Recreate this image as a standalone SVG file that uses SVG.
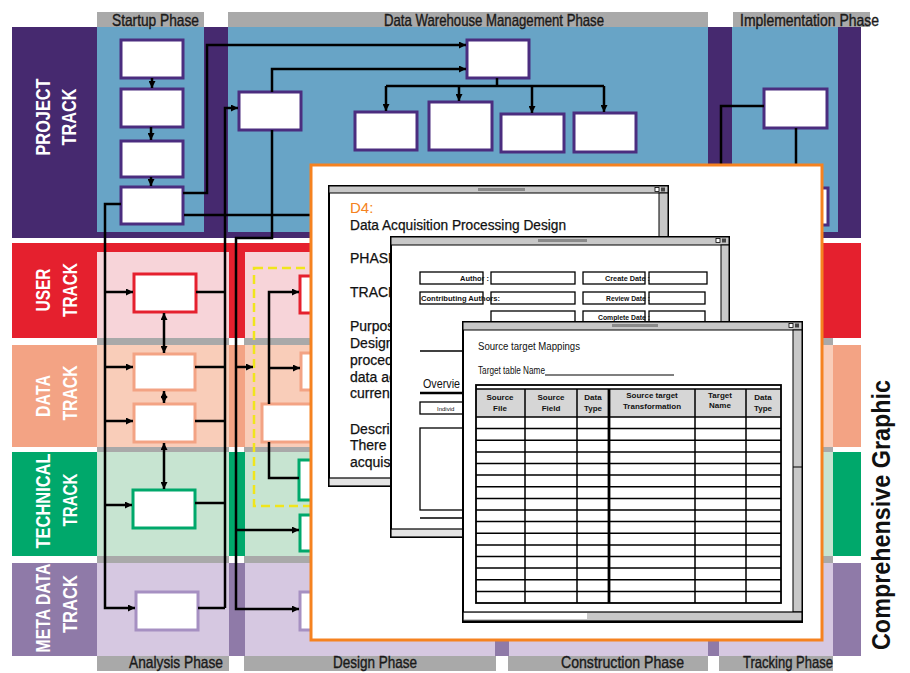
<svg xmlns="http://www.w3.org/2000/svg" width="910" height="673" viewBox="0 0 910 673">
<style>
.ph{font-family:"Liberation Sans",Arial,sans-serif;font-size:17px;fill:#1a1a1a;stroke:#1a1a1a;stroke-width:0.4}
.tl{font-family:"Liberation Sans",Arial,sans-serif;font-weight:bold;font-size:21px;fill:#fff;text-anchor:middle}
.bx{fill:#fff;stroke-width:3}
.pj{stroke:#4b2d7f}
.us{stroke:#e5202e}
.da{stroke:#f3a384}
.te{stroke:#00a86b}
.me{stroke:#a690c2}
.ln{fill:none;stroke:#000;stroke-width:2.5}
.gr{fill:#a9a9a9}
.wt{font-family:"Liberation Sans",Arial,sans-serif;font-size:14px;fill:#111;stroke:#111;stroke-width:0.25}
.fs{font-family:"Liberation Sans",Arial,sans-serif;font-size:8px;font-weight:bold;fill:#111}
.fr{fill:#fff;stroke:#000;stroke-width:1.3}
.win{fill:#fff;stroke:#000;stroke-width:2}
.bar{fill:#c8c8c8;stroke:#000;stroke-width:1}
.hd{font-family:"Liberation Sans",Arial,sans-serif;font-size:8px;font-weight:bold;fill:#111;text-anchor:middle}
</style>
<defs>
<marker id="ah" markerUnits="userSpaceOnUse" markerWidth="7" markerHeight="7" refX="7" refY="3.5" orient="auto-start-reverse">
<path d="M0,0 L7,3.5 L0,7 z" fill="#000"/>
</marker>
</defs>

<g id="background">
<rect width="910" height="673" fill="#fff"/>
<rect class="gr" x="97" y="12" width="107" height="15"/>
<rect class="gr" x="228" y="12" width="480" height="15"/>
<rect class="gr" x="733" y="12" width="137" height="15"/>
<rect x="12" y="27" width="849" height="211" fill="#46296f"/>
<rect x="97" y="27" width="107" height="205" fill="#68a4c6"/>
<rect x="228" y="27" width="480" height="205" fill="#68a4c6"/>
<rect x="732" y="27" width="106" height="205" fill="#68a4c6"/>
<rect x="12" y="243" width="849" height="95" fill="#e5202e"/>
<g fill="#f7d4d9">
<rect x="97" y="252" width="132" height="86"/>
<rect x="245" y="252" width="250" height="86"/>
<rect x="509" y="252" width="199" height="86"/>
<rect x="719" y="252" width="103" height="86"/>
</g>
<rect class="gr" x="97" y="338" width="132" height="7"/>
<rect class="gr" x="244" y="338" width="589" height="7"/>
<rect x="12" y="345" width="849" height="102" fill="#f3a384"/>
<g fill="#f9cdb9">
<rect x="97" y="345" width="132" height="102"/>
<rect x="245" y="345" width="250" height="102"/>
<rect x="509" y="345" width="199" height="102"/>
<rect x="719" y="345" width="114" height="102"/>
</g>
<rect class="gr" x="97" y="447" width="132" height="5"/>
<rect class="gr" x="244" y="447" width="589" height="5"/>
<rect x="12" y="452" width="849" height="104" fill="#00a86b"/>
<g fill="#c7e4d1">
<rect x="97" y="452" width="132" height="104"/>
<rect x="245" y="452" width="250" height="104"/>
<rect x="509" y="452" width="199" height="104"/>
<rect x="719" y="452" width="114" height="104"/>
</g>
<rect class="gr" x="97" y="556" width="132" height="7"/>
<rect class="gr" x="244" y="556" width="589" height="7"/>
<rect x="12" y="563" width="849" height="93" fill="#8f7aa8"/>
<g fill="#d6c8e1">
<rect x="97" y="563" width="132" height="93"/>
<rect x="245" y="563" width="250" height="93"/>
<rect x="509" y="563" width="199" height="93"/>
<rect x="719" y="563" width="114" height="93"/>
</g>
<rect class="gr" x="97" y="656" width="132" height="15"/>
<rect class="gr" x="244" y="656" width="252" height="15"/>
<rect class="gr" x="508" y="656" width="200" height="15"/>
<rect class="gr" x="719" y="656" width="114" height="15"/>
</g>

<g id="phase-labels">
<text class="ph" x="112" y="26" textLength="87" lengthAdjust="spacingAndGlyphs">Startup Phase</text>
<text class="ph" x="384" y="26" textLength="220" lengthAdjust="spacingAndGlyphs">Data Warehouse Management Phase</text>
<text class="ph" x="740" y="26" textLength="139" lengthAdjust="spacingAndGlyphs">Implementation Phase</text>
<text class="ph" x="129" y="668" textLength="94" lengthAdjust="spacingAndGlyphs">Analysis Phase</text>
<text class="ph" x="333" y="668" textLength="84" lengthAdjust="spacingAndGlyphs">Design Phase</text>
<text class="ph" x="561" y="668" textLength="123" lengthAdjust="spacingAndGlyphs">Construction Phase</text>
<text class="ph" x="743" y="668" textLength="90" lengthAdjust="spacingAndGlyphs">Tracking Phase</text>
</g>

<g id="track-labels">
<text class="tl" transform="translate(50,117) rotate(-90)" textLength="77" lengthAdjust="spacingAndGlyphs">PROJECT</text>
<text class="tl" transform="translate(76,117) rotate(-90)" textLength="57" lengthAdjust="spacingAndGlyphs">TRACK</text>
<text class="tl" transform="translate(50,290) rotate(-90)" textLength="43" lengthAdjust="spacingAndGlyphs">USER</text>
<text class="tl" transform="translate(77,290) rotate(-90)" textLength="54" lengthAdjust="spacingAndGlyphs">TRACK</text>
<text class="tl" transform="translate(50,396) rotate(-90)" textLength="42" lengthAdjust="spacingAndGlyphs">DATA</text>
<text class="tl" transform="translate(77,393) rotate(-90)" textLength="55" lengthAdjust="spacingAndGlyphs">TRACK</text>
<text class="tl" transform="translate(50,501) rotate(-90)" textLength="95" lengthAdjust="spacingAndGlyphs">TECHNICAL</text>
<text class="tl" transform="translate(77,500) rotate(-90)" textLength="53" lengthAdjust="spacingAndGlyphs">TRACK</text>
<text class="tl" transform="translate(50,608) rotate(-90)" textLength="89" lengthAdjust="spacingAndGlyphs">META DATA</text>
<text class="tl" transform="translate(77,604) rotate(-90)" textLength="58" lengthAdjust="spacingAndGlyphs">TRACK</text>
</g>

<g id="node-startup-1"><rect class="bx pj" x="121" y="40" width="62" height="38"/></g>
<g id="node-startup-2"><rect class="bx pj" x="121" y="89" width="62" height="38"/></g>
<g id="node-startup-3"><rect class="bx pj" x="121" y="141" width="62" height="36"/></g>
<g id="node-startup-4"><rect class="bx pj" x="121" y="187" width="62" height="37"/></g>
<g id="node-dwm-1"><rect class="bx pj" x="239" y="92" width="62" height="38"/></g>
<g id="node-dwm-top"><rect class="bx pj" x="467" y="40" width="62" height="38"/></g>
<g id="node-dwm-a"><rect class="bx pj" x="355" y="112" width="62" height="38"/></g>
<g id="node-dwm-b"><rect class="bx pj" x="429" y="102" width="63" height="48"/></g>
<g id="node-dwm-c"><rect class="bx pj" x="501" y="114" width="63" height="38"/></g>
<g id="node-dwm-d"><rect class="bx pj" x="574" y="113" width="62" height="39"/></g>
<g id="node-impl-1"><rect class="bx pj" x="764" y="89" width="63" height="39"/></g>
<g id="node-impl-2"><rect class="bx pj" x="766" y="188" width="62" height="37"/></g>
<g id="node-an-user"><rect class="bx us" x="134" y="274" width="62" height="38"/></g>
<g id="node-an-data1"><rect class="bx da" x="134" y="354" width="61" height="36"/></g>
<g id="node-an-data2"><rect class="bx da" x="134" y="404" width="61" height="38"/></g>
<g id="node-an-tech"><rect class="bx te" x="133" y="490" width="62" height="38"/></g>
<g id="node-an-meta"><rect class="bx me" x="136" y="592" width="62" height="38"/></g>
<g id="node-de-user"><rect class="bx us" x="300" y="276" width="60" height="37"/></g>
<g id="node-de-data1"><rect class="bx da" x="301" y="353" width="60" height="37"/></g>
<g id="node-de-data2"><rect class="bx da" x="262" y="404" width="60" height="38"/></g>
<g id="node-de-tech1"><rect class="bx te" x="299" y="460" width="60" height="40"/></g>
<g id="node-de-tech2"><rect class="bx te" x="300" y="515" width="60" height="36"/></g>
<g id="node-de-meta"><rect class="bx me" x="300" y="592" width="60" height="38"/></g>
<g id="design-group"><rect x="254" y="268" width="120" height="238" fill="none" stroke="#f0e51c" stroke-width="2.5" stroke-dasharray="9 5"/></g>

<g id="connectors" class="ln">
<path d="M152,78 V88" marker-end="url(#ah)"/>
<path d="M151,127 V140" marker-end="url(#ah)"/>
<path d="M151,177 V186" marker-end="url(#ah)"/>
<path d="M183,193 H207 V45 H466" marker-end="url(#ah)"/>
<path d="M184,215 H312"/>
<path d="M121,204 H105 V608 H135" marker-end="url(#ah)"/>
<path d="M105,292 H133" marker-end="url(#ah)"/>
<path d="M105,367 H133" marker-end="url(#ah)"/>
<path d="M105,421 H133" marker-end="url(#ah)"/>
<path d="M105,505 H132" marker-end="url(#ah)"/>
<path d="M225,608 V108 H238" marker-end="url(#ah)"/>
<path d="M196,292 H225 M195,367 H225 M195,421 H225 M195,503 H225 M198,608 H225"/>
<path d="M272,92 V69 H466" marker-end="url(#ah)"/>
<path d="M272,130 V238 H236 V609 H299" marker-end="url(#ah)"/>
<path d="M236,367 H253" marker-end="url(#ah)"/>
<path d="M236,530 H299" marker-end="url(#ah)"/>
<path d="M497,78 V86 M386,86 H604"/>
<path d="M386,86 V111" marker-end="url(#ah)"/>
<path d="M459,86 V101" marker-end="url(#ah)"/>
<path d="M532,86 V113" marker-end="url(#ah)"/>
<path d="M604,86 V112" marker-end="url(#ah)"/>
<path d="M764,106 H721 V166 M796,128 V166"/>
<path d="M269,404 V292 H299" marker-end="url(#ah)"/>
<path d="M269,368 H300" marker-end="url(#ah)"/>
<path d="M269,442 V478 H299"/>
<path d="M164,313 V353" marker-start="url(#ah)" marker-end="url(#ah)"/>
<path d="M164,391 V403" marker-start="url(#ah)" marker-end="url(#ah)"/>
<path d="M164,443 V489" marker-start="url(#ah)" marker-end="url(#ah)"/>
</g>

<g id="document">
<rect x="311" y="165" width="511" height="475" fill="#fff" stroke="#f58220" stroke-width="3"/>
<g id="window-1">
<rect class="win" x="329" y="186" width="339" height="300"/>
<rect class="bar" x="329" y="186" width="339" height="7"/>
<rect x="478" y="188" width="47" height="3" fill="#8a8a8a"/>
<rect x="655" y="187.5" width="4" height="4" fill="#fff" stroke="#000" stroke-width="0.8"/>
<rect x="661" y="187.5" width="4" height="4" fill="#444"/>
<rect class="bar" x="659" y="193" width="9" height="285"/>
<rect x="329" y="478" width="339" height="8" fill="#e4e4e4" stroke="#000" stroke-width="1.2"/>
<text x="350" y="213" font-family="Liberation Sans, Arial, sans-serif" font-size="15" fill="#f58220">D4:</text>
<text class="wt" x="350" y="230" textLength="216" lengthAdjust="spacingAndGlyphs">Data Acquisition Processing Design</text>
<text class="wt" x="350" y="263">PHASE</text>
<text class="wt" x="350" y="297">TRACK</text>
<text class="wt" x="350" y="331">Purpos</text>
<text class="wt" x="350" y="348">Design</text>
<text class="wt" x="350" y="365">proced</text>
<text class="wt" x="350" y="382">data ac</text>
<text class="wt" x="350" y="398">curren</text>
<text class="wt" x="350" y="434">Descri</text>
<text class="wt" x="350" y="450">There a</text>
<text class="wt" x="350" y="467">acquis</text>
</g>
<g id="window-2">
<rect class="win" x="391" y="237" width="338" height="300"/>
<rect class="bar" x="391" y="237" width="338" height="8"/>
<rect x="538" y="239" width="49" height="3" fill="#8a8a8a"/>
<rect x="716" y="238.5" width="4" height="4" fill="#fff" stroke="#000" stroke-width="0.8"/>
<rect x="722" y="238.5" width="4" height="4" fill="#444"/>
<rect class="bar" x="721" y="245" width="8" height="284"/>
<rect x="391" y="529" width="338" height="8" fill="#e4e4e4" stroke="#000" stroke-width="1.2"/>
<rect class="fr" x="420" y="272" width="63" height="12"/>
<rect class="fr" x="491" y="272" width="84" height="12"/>
<rect class="fr" x="583" y="272" width="62" height="12"/>
<rect class="fr" x="649" y="272" width="58" height="12"/>
<rect class="fr" x="420" y="292" width="63" height="12"/>
<rect class="fr" x="491" y="292" width="84" height="12"/>
<rect class="fr" x="583" y="292" width="62" height="12"/>
<rect class="fr" x="649" y="292" width="56" height="12"/>
<rect class="fr" x="491" y="311" width="84" height="12"/>
<rect class="fr" x="583" y="311" width="62" height="12"/>
<rect class="fr" x="649" y="311" width="56" height="12"/>
<text class="fs" x="489" y="281" text-anchor="end" textLength="29" lengthAdjust="spacingAndGlyphs">Author :</text>
<text class="fs" x="650" y="281" text-anchor="end" textLength="45" lengthAdjust="spacingAndGlyphs">Create Date :</text>
<text class="fs" x="421" y="301" textLength="79" lengthAdjust="spacingAndGlyphs">Contributing Authors:</text>
<text class="fs" x="650" y="301" text-anchor="end" textLength="44" lengthAdjust="spacingAndGlyphs">Review Date :</text>
<text class="fs" x="650" y="320" text-anchor="end" textLength="52" lengthAdjust="spacingAndGlyphs">Complete Date :</text>
<path d="M420,351 H465" stroke="#000" stroke-width="1.3"/>
<text x="423" y="388" font-family="Liberation Sans, Arial, sans-serif" font-size="13" fill="#111" textLength="37" lengthAdjust="spacingAndGlyphs">Overvie</text>
<path d="M420,393 H465" stroke="#000" stroke-width="2.5"/>
<rect class="fr" x="420" y="402" width="45" height="12"/>
<text x="437" y="411" font-family="Liberation Sans, Arial, sans-serif" font-size="6" fill="#111">Individ</text>
<rect class="fr" x="420" y="428" width="45" height="82"/>
<path d="M420,518 H465" stroke="#000" stroke-width="1.3"/>
</g>
<g id="window-3">
<rect class="win" x="463" y="322" width="339" height="300"/>
<rect class="bar" x="463" y="322" width="339" height="8"/>
<rect x="612" y="324" width="46" height="3" fill="#8a8a8a"/>
<rect x="789" y="323.5" width="4" height="4" fill="#fff" stroke="#000" stroke-width="0.8"/>
<rect x="795" y="323.5" width="4" height="4" fill="#444"/>
<rect class="bar" x="793" y="330" width="9" height="282"/>
<path d="M793,467 H802" stroke="#000" stroke-width="1"/>
<rect x="463" y="612" width="339" height="9" fill="#c8c8c8" stroke="#000" stroke-width="1.2"/>
<rect x="464" y="613" width="123" height="6" fill="#fff"/>
<text x="478" y="350" font-family="Liberation Sans, Arial, sans-serif" font-size="10" fill="#111" textLength="102" lengthAdjust="spacingAndGlyphs">Source target Mappings</text>
<text x="478" y="374" font-family="Liberation Sans, Arial, sans-serif" font-size="10" fill="#111" textLength="67" lengthAdjust="spacingAndGlyphs">Target table Name</text>
<path d="M545,375 H674" stroke="#000" stroke-width="1.2"/>
<rect x="476" y="389" width="305" height="28" fill="#d6d6d6"/>
<rect x="476" y="385" width="305" height="218" fill="none" stroke="#000" stroke-width="1.8"/>
<path d="M476,389 H781 M476,417 H781 M476,428.6 H781 M476,440.3 H781 M476,451.9 H781 M476,463.5 H781 M476,475.1 H781 M476,486.8 H781 M476,498.4 H781 M476,510 H781 M476,521.6 H781 M476,533.3 H781 M476,544.9 H781 M476,556.5 H781 M476,568.1 H781 M476,579.8 H781 M476,591.4 H781 M525,389 V603 M577,389 V603 M695,389 V603 M746,389 V603" fill="none" stroke="#000" stroke-width="1.5"/>
<path d="M609,389 V603" stroke="#000" stroke-width="2.8"/>
<text class="hd" x="500" y="400">Source</text><text class="hd" x="500" y="411">File</text>
<text class="hd" x="551" y="400">Source</text><text class="hd" x="551" y="411">Field</text>
<text class="hd" x="593" y="400">Data</text><text class="hd" x="593" y="411">Type</text>
<text class="hd" x="652" y="398">Source target</text><text class="hd" x="652" y="409">Transformation</text>
<text class="hd" x="720" y="398">Target</text><text class="hd" x="720" y="408">Name</text>
<text class="hd" x="763" y="400">Data</text><text class="hd" x="763" y="411">Type</text>
</g>
</g>

<text x="890" y="515" transform="rotate(-90 890 515)" text-anchor="middle" font-family="Liberation Sans, Arial, sans-serif" font-weight="bold" font-size="25" fill="#111" textLength="270" lengthAdjust="spacingAndGlyphs">Comprehensive Graphic</text>
</svg>
